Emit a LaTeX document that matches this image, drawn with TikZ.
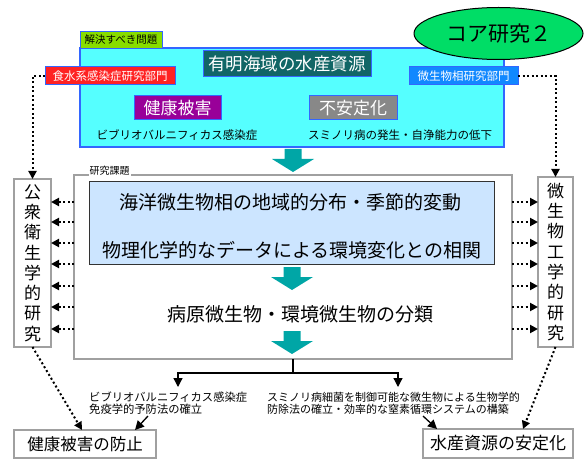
\documentclass[tikz,border=0pt]{standalone}
\usepackage{fontspec}
\setmainfont{Noto Sans CJK JP}
\usetikzlibrary{shapes.geometric,arrows.meta}
\newcommand\fsz[1]{\fontsize{#1}{#1}\selectfont}
\definecolor{cyanfill}{RGB}{85,255,255}
\definecolor{bordblue}{RGB}{51,102,255}
\definecolor{coregreen}{RGB}{0,221,102}
\definecolor{titleteal}{RGB}{17,102,102}
\definecolor{labred}{RGB}{255,34,34}
\definecolor{labblue}{RGB}{17,136,255}
\definecolor{labgreen}{RGB}{136,221,0}
\definecolor{harmpurple}{RGB}{153,0,153}
\definecolor{instgray}{RGB}{136,136,136}
\definecolor{lightblue}{RGB}{204,229,255}
\definecolor{tealarr}{RGB}{0,166,166}
\definecolor{boxgray}{RGB}{160,160,160}
\tikzset{
  box/.style={rectangle,inner sep=0pt,outer sep=0pt},
  lab/.style={box,draw=bordblue,line width=1pt,text=white},
  graybox/.style={box,draw=boxgray,line width=1.5pt,fill=white},
  dotarr/.style={line width=2pt,dash pattern=on 2pt off 2.5pt,-{Triangle[length=8pt,width=8pt]}},
  solarr/.style={line width=1.3pt,-{Triangle[length=9pt,width=9pt]}},
  pics/tealdown/.style={code={
    \fill[tealarr] (-8.5,0) -- (8.5,0) -- (8.5,10) -- (21,10) -- (0,23) -- (-21,10) -- (-8.5,10) -- cycle;
  }}
}
\begin{document}
\begin{tikzpicture}[x=1pt,y=-1pt]
\useasboundingbox (0,0) rectangle (588,470);
% main problem box
\node[box,draw=bordblue,line width=1.5pt,fill=cyanfill,minimum width=424pt,minimum height=99pt] (mainbox) at (292,97.5) {};
\node[box,draw=bordblue,line width=1pt,fill=labgreen,minimum width=82pt,minimum height=17pt,font=\fsz{10.5}] (problab) at (121,40) {解決すべき問題};
\node[lab,fill=titleteal,minimum width=168pt,minimum height=26pt,font=\fsz{17.5}] (title) at (287,64) {有明海域の水産資源};
\node[lab,fill=labred,minimum width=130pt,minimum height=18pt,font=\fsz{11.5}] (redlab) at (110,76) {食水系感染症研究部門};
\node[lab,fill=labblue,minimum width=109pt,minimum height=18pt,font=\fsz{11.5}] (bluelab) at (463.5,76) {微生物相研究部門};
\node[lab,fill=harmpurple,minimum width=87pt,minimum height=24pt,font=\fsz{17}] (harm) at (177.5,108) {健康被害};
\node[lab,fill=instgray,minimum width=88pt,minimum height=24pt,font=\fsz{17}] (inst) at (353,108) {不安定化};
\node[font=\fsz{11.5},inner sep=0pt] (vibtext) at (177,135) {ビブリオバルニフィカス感染症};
\node[font=\fsz{11.5},inner sep=0pt] (sumtext) at (400,135) {スミノリ病の発生・自浄能力の低下};
% core ellipse
\node[ellipse,draw=black,line width=1pt,fill=coregreen,minimum width=169pt,minimum height=52pt,inner sep=0pt,font=\fsz{21}] (core) at (498.5,33.5) {コア研究２};
% research box
\node[graybox,minimum width=438pt,minimum height=184pt] (research) at (293,267) {};
\node[fill=white,inner sep=1pt,font=\fsz{10}] (reslab) at (109.5,171) {研究課題};
\node[box,draw=black!80,line width=1pt,fill=lightblue,minimum width=405pt,minimum height=82pt] (lbbox) at (291.5,223) {};
\node[font=\fsz{19},inner sep=0pt] (line1) at (290,202) {海洋微生物相の地域的分布・季節的変動};
\node[font=\fsz{19},inner sep=0pt] (line2) at (292,250) {物理化学的なデータによる環境変化との相関};
\node[font=\fsz{19},inner sep=0pt] (line3) at (300,314) {病原微生物・環境微生物の分類};
\pic at (293,149) {tealdown};
\pic at (292,267) {tealdown};
\pic at (292,331) {tealdown};
% side boxes
\node[graybox,minimum width=37pt,minimum height=168pt,align=center,font=\fontsize{17}{20.3}\selectfont] (pubbox) at (32.5,263) {公\\衆\\衛\\生\\学\\的\\研\\究};
\node[graybox,minimum width=35pt,minimum height=170pt,align=center,font=\fontsize{17}{20.3}\selectfont] (micbox) at (555.5,262) {微\\生\\物\\工\\学\\的\\研\\究};
% dotted connectors from labels
\draw[dotarr] (redlab.west) -| (pubbox.north);
\draw[dotarr] (bluelab.east) -| (micbox.north);
\foreach \yy in {202,222,243,264,286,307,329}{
  \draw[dotarr] (research.west |- {(0,\yy)}) -- (pubbox.east |- {(0,\yy)});
  \draw[dotarr] (research.east |- {(0,\yy)}) -- (micbox.west |- {(0,\yy)});
}
% bottom
\node[graybox,minimum width=142pt,minimum height=28pt,font=\fsz{16.5}] (hb) at (85,444) {健康被害の防止};
\node[graybox,minimum width=150pt,minimum height=29pt,font=\fsz{17}] (sr) at (498,443.5) {水産資源の安定化};
\node[anchor=west,align=left,inner sep=0pt,font=\fontsize{11.3}{12.3}\selectfont] (ltext) at (89,403) {ビブリオバルニフィカス感染症\\免疫学的予防法の確立};
\node[anchor=west,align=left,inner sep=0pt,font=\fontsize{11}{12.3}\selectfont] (rtext) at (267,403) {スミノリ病細菌を制御可能な微生物による生物学的\\防除法の確立・効率的な窒素循環システムの構築};
\coordinate (br) at (293,373);
\coordinate (jl) at (178,387);
\coordinate (jr) at (398,387);
\draw[line width=1.3pt] (research.south) -- (br);
\draw[solarr] (br) -| (jl);
\draw[solarr] (br) -| (jr);
\coordinate (ls) at (148,416);
\coordinate (rs) at (423,416);
\draw[solarr] (ls) -- ([xshift=50pt]hb.north);
\draw[solarr] (rs) -- ([xshift=-61pt]sr.north);
\draw[dotarr] (pubbox.south) -- ([xshift=-3pt]hb.north);
\draw[dotarr] (micbox.south) -- ([xshift=25pt]sr.north);
\end{tikzpicture}
\end{document}
